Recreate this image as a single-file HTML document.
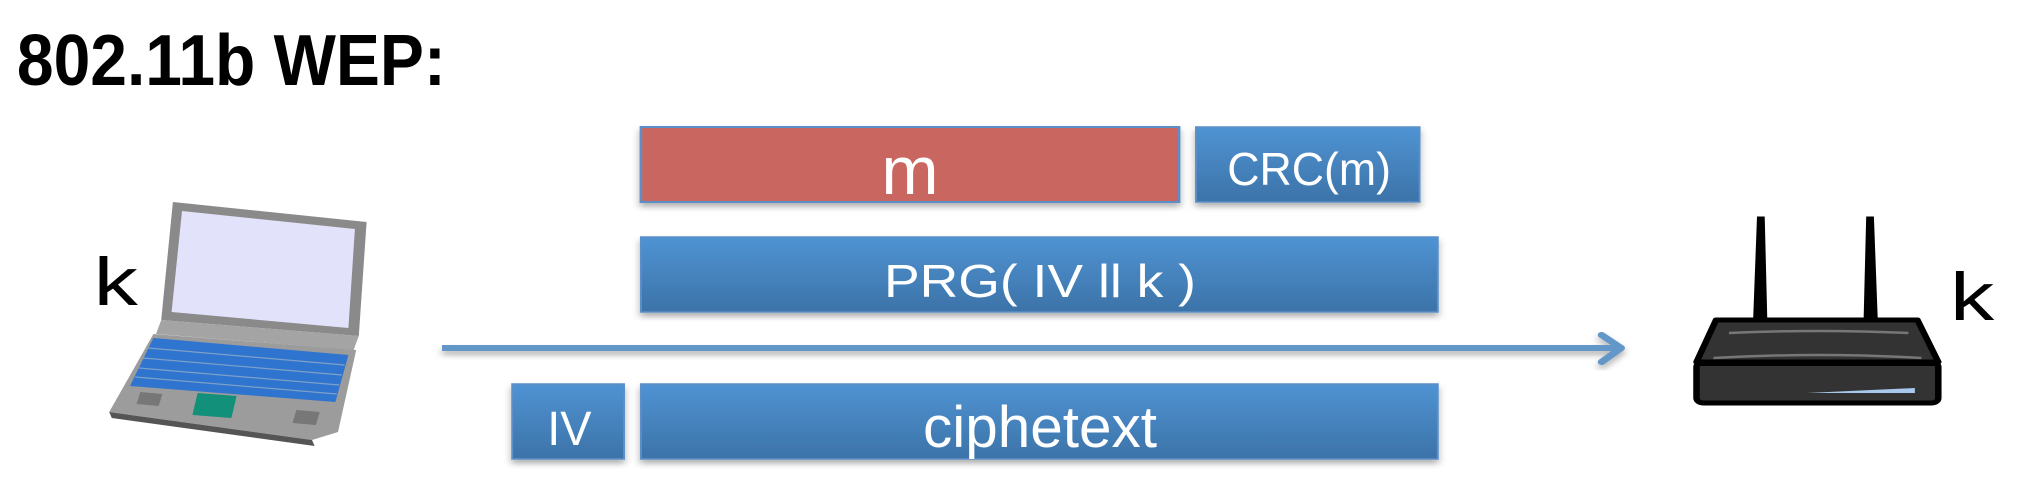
<!DOCTYPE html>
<html><head><meta charset="utf-8"><style>
html,body{margin:0;padding:0;background:#fff;width:2028px;height:490px;overflow:hidden}
svg{display:block}
text{font-family:"Liberation Sans",sans-serif}
</style></head><body>
<svg width="2028" height="490" viewBox="0 0 1560 490" preserveAspectRatio="none" xmlns="http://www.w3.org/2000/svg">
<defs>
<linearGradient id="bl" x1="0" y1="0" x2="0" y2="1"><stop offset="0" stop-color="#4f93d3"/><stop offset="1" stop-color="#3c73a8"/></linearGradient>
<filter id="sh" x="-5%" y="-10%" width="110%" height="140%"><feDropShadow dx="0" dy="4" stdDeviation="3" flood-color="#000" flood-opacity="0.3"/></filter>
</defs>
<text x="13" y="85" font-size="72" font-weight="bold" textLength="330" lengthAdjust="spacingAndGlyphs">802.11b WEP:</text>

<g filter="url(#sh)">
<rect x="493" y="127" width="414" height="75" fill="#c9665f" stroke="#5b8fc7" stroke-width="2"/>
<rect x="920" y="127" width="172" height="75" fill="url(#bl)" stroke="#5b8fc7" stroke-width="1.5"/>
<rect x="493" y="237" width="613" height="75" fill="url(#bl)" stroke="#5b8fc7" stroke-width="1.5"/>
<rect x="394" y="384" width="86" height="75" fill="url(#bl)" stroke="#5b8fc7" stroke-width="1.5"/>
<rect x="493" y="384" width="613" height="75" fill="url(#bl)" stroke="#5b8fc7" stroke-width="1.5"/>
</g>
<g fill="#fff" text-anchor="middle">
<text x="700" y="194" font-size="68" textLength="44" lengthAdjust="spacingAndGlyphs">m</text>
<text x="1007" y="185" font-size="46" textLength="126" lengthAdjust="spacingAndGlyphs">CRC(m)</text>
<text x="800" y="297" font-size="46" textLength="240" lengthAdjust="spacingAndGlyphs">PRG(  IV  ll  k )</text>
<text x="438" y="445" font-size="48" textLength="34" lengthAdjust="spacingAndGlyphs">IV</text>
<text x="800" y="447" font-size="58" textLength="180" lengthAdjust="spacingAndGlyphs">ciphetext</text>
</g>

<g filter="url(#sh)" stroke="#6397c8" fill="none" stroke-width="6">
<line x1="340" y1="348" x2="1246" y2="348"/>
<polyline points="1232,335 1247,348 1232,362" stroke-linecap="round" stroke-linejoin="round"/>
</g>

<text x="72" y="305" font-size="68">k</text>
<text x="1500" y="320" font-size="68">k</text>

<!-- laptop -->
<g>
<polygon points="133,202 282,222 276,336 124,320" fill="#8a8a8a"/>
<polygon points="140,211 273,229 268,328 132,312" fill="#e2e2fb"/>
<polygon points="124,320 276,336 272,350 120,334" fill="#a4a4a4"/>
<polygon points="118,334 274,350 260,432 240,440 84,412" fill="#9c9c9c"/>
<polygon points="84,412 240,440 242,446 86,418" fill="#555"/>
<polygon points="118,338 268,355 258,402 100,386" fill="#2f74cf"/>
<g stroke="#7ea0c8" stroke-width="1.2">
<line x1="114" y1="348" x2="265" y2="365"/>
<line x1="110" y1="358" x2="263" y2="375"/>
<line x1="107" y1="368" x2="261" y2="385"/>
<line x1="104" y1="377" x2="259" y2="394"/>
</g>
<polygon points="152,393 182,396 178,418 148,415" fill="#139079"/>
<polygon points="108,392 125,394 122,406 105,404" fill="#777"/>
<polygon points="228,410 246,412 243,425 225,423" fill="#777"/>
</g>

<!-- router -->
<g>
<path d="M1353,218 L1350,322 L1358,322 L1356,218 Z" fill="#000" stroke="#000" stroke-width="3"/>
<path d="M1437,218 L1435,322 L1443,322 L1440,218 Z" fill="#000" stroke="#000" stroke-width="3"/>
<polygon points="1320,320 1475,320 1491,362 1305,362" fill="#333" stroke="#000" stroke-width="5" stroke-linejoin="round"/>
<rect x="1305" y="362" width="186" height="41" rx="5" fill="#333" stroke="#000" stroke-width="5"/>
<line x1="1305" y1="363" x2="1491" y2="363" stroke="#000" stroke-width="6"/>
<path d="M1330,333 Q1400,329 1468,333" stroke="#777" stroke-width="2.5" fill="none"/>
<path d="M1318,358 Q1400,352 1478,358" stroke="#777" stroke-width="2.5" fill="none"/>
<path d="M1390,393 L1473,388 L1473,393 Z" fill="#a8c8ec"/>
</g>
</svg>
</body></html>
